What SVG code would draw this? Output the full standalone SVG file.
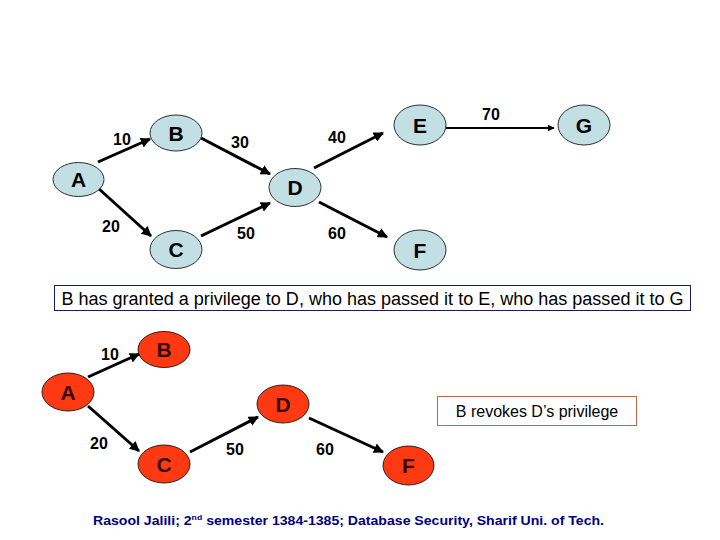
<svg xmlns="http://www.w3.org/2000/svg" width="720" height="540" viewBox="0 0 720 540">
<defs>
<marker id="ah" viewBox="0 0 10 10" refX="9" refY="5" markerWidth="3.4" markerHeight="3.4" orient="auto" markerUnits="strokeWidth">
<path d="M0,0 L10,5 L0,10 z" fill="#000"/>
</marker>
<style>
.nb{fill:#c2dfe3;stroke:#000;stroke-width:0.8}
.nr{fill:#ff3a12;stroke:#000;stroke-width:0.8}
.lt{font-family:"Liberation Sans",Arial,sans-serif;font-weight:bold;font-size:21px;text-anchor:middle}
.lb{font-family:"Liberation Sans",Arial,sans-serif;font-weight:bold;font-size:16px;text-anchor:middle;fill:#000}
.ed{stroke:#000;stroke-width:3;fill:none;marker-end:url(#ah)}
.ed2{stroke:#000;stroke-width:2;fill:none;marker-end:url(#ah)}
</style>
</defs>
<rect width="720" height="540" fill="#fff"/>
<g id="connectors">
<line class="ed" x1="98" y1="162" x2="150" y2="139"/>
<line class="ed" x1="201" y1="138" x2="270" y2="174"/>
<line class="ed" x1="98" y1="188" x2="151" y2="236"/>
<line class="ed" x1="201" y1="236" x2="270" y2="203"/>
<line class="ed" x1="314" y1="168" x2="383" y2="133"/>
<line class="ed" x1="319" y1="202" x2="387" y2="237"/>
<line class="ed2" x1="446" y1="128" x2="554" y2="128"/>
<line class="ed" x1="88" y1="377" x2="139" y2="354"/>
<line class="ed" x1="88" y1="406" x2="139" y2="451"/>
<line class="ed" x1="190" y1="452" x2="258" y2="417"/>
<line class="ed" x1="309" y1="418" x2="383" y2="452"/>
</g>
<g id="edge-labels">
<text class="lb" x="122" y="145">10</text>
<text class="lb" x="240" y="148">30</text>
<text class="lb" x="337" y="143">40</text>
<text class="lb" x="111" y="232">20</text>
<text class="lb" x="246" y="239">50</text>
<text class="lb" x="337" y="239">60</text>
<text class="lb" x="491" y="120">70</text>
<text class="lb" x="110" y="360">10</text>
<text class="lb" x="99" y="449">20</text>
<text class="lb" x="235" y="455">50</text>
<text class="lb" x="325" y="455">60</text>
</g>
<g id="top-A"><ellipse class="nb" cx="78.5" cy="179.5" rx="25.5" ry="17"/><text class="lt" x="78.5" y="187">A</text></g>
<g id="top-B"><ellipse class="nb" cx="176" cy="133" rx="26" ry="18"/><text class="lt" x="176" y="140.5">B</text></g>
<g id="top-C"><ellipse class="nb" cx="176" cy="249.5" rx="26" ry="19"/><text class="lt" x="176" y="257">C</text></g>
<g id="top-D"><ellipse class="nb" cx="295" cy="187.5" rx="26" ry="19"/><text class="lt" x="295" y="195">D</text></g>
<g id="top-E"><ellipse class="nb" cx="420" cy="125" rx="26" ry="20"/><text class="lt" x="420" y="132.5">E</text></g>
<g id="top-G"><ellipse class="nb" cx="584" cy="125" rx="26" ry="20"/><text class="lt" x="584" y="132.5">G</text></g>
<g id="top-F"><ellipse class="nb" cx="420" cy="250" rx="26" ry="20"/><text class="lt" x="420" y="257.5">F</text></g>
<g id="caption1">
<rect x="54.5" y="285.5" width="636" height="25" fill="#fff" stroke="#1a1a60" stroke-width="1"/>
<text x="372.5" y="304.5" font-family="'Liberation Sans',Arial,sans-serif" font-size="18" text-anchor="middle" fill="#000" textLength="622" lengthAdjust="spacingAndGlyphs">B has granted a privilege to D, who has passed it to E, who has passed it to G</text>
</g>
<g id="bot-A"><ellipse class="nr" cx="68" cy="392" rx="26" ry="19"/><text class="lt" x="68" y="399.5" fill="#300">A</text></g>
<g id="bot-B"><ellipse class="nr" cx="164" cy="349.5" rx="26" ry="18"/><text class="lt" x="164" y="357" fill="#300">B</text></g>
<g id="bot-C"><ellipse class="nr" cx="164" cy="464" rx="26" ry="19"/><text class="lt" x="164" y="471.5" fill="#300">C</text></g>
<g id="bot-D"><ellipse class="nr" cx="283" cy="404" rx="26" ry="19"/><text class="lt" x="283" y="411.5" fill="#300">D</text></g>
<g id="bot-F"><ellipse class="nr" cx="408.5" cy="465.5" rx="25.5" ry="19.5"/><text class="lt" x="408.5" y="473" fill="#300">F</text></g>
<g id="caption2">
<rect x="437.5" y="396.5" width="199" height="29" fill="#fff" stroke="#b86a50" stroke-width="1"/>
<text x="537" y="417" font-family="'Liberation Sans',Arial,sans-serif" font-size="16" text-anchor="middle" fill="#000">B revokes D’s privilege</text>
</g>
<g id="footer">
<text x="93" y="525" font-family="'Liberation Sans',Arial,sans-serif" font-size="13" font-weight="bold" fill="#000080" textLength="511" lengthAdjust="spacingAndGlyphs">Rasool Jalili; 2<tspan font-size="8" dy="-5">nd</tspan><tspan dy="5"> semester 1384-1385; Database Security, Sharif Uni. of Tech.</tspan></text>
</g>
</svg>
